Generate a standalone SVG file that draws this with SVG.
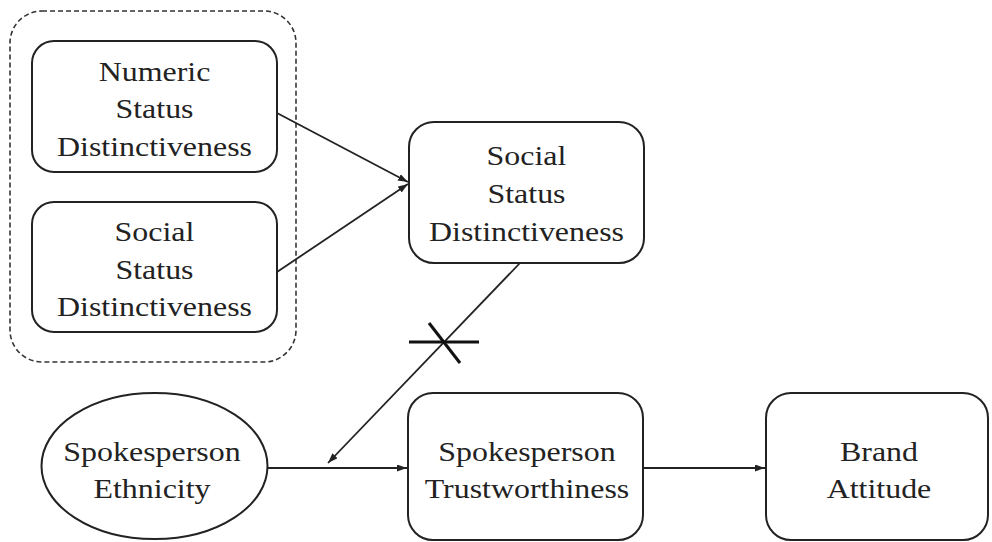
<svg xmlns="http://www.w3.org/2000/svg" width="992" height="542" viewBox="0 0 992 542">
  <style>
    .box { fill: none; stroke: #222; stroke-width: 2; }
    .grp { fill: none; stroke: #333; stroke-width: 1.6; stroke-dasharray: 5 3; }
    .lbl { font-family: "Liberation Serif", "Times New Roman", serif; font-size: 28px; fill: #222; text-anchor: middle; }
    .edge { fill: none; stroke: #222; stroke-width: 1.8; }
    .cut { fill: none; stroke: #111; stroke-width: 3; }
  </style>
  <defs>
    <marker id="arrow" markerUnits="userSpaceOnUse" markerWidth="11" markerHeight="8" refX="10" refY="3.5" orient="auto">
      <path d="M0,0 L10,3.5 L0,7 z" fill="#222"/>
    </marker>
  </defs>
  <rect width="992" height="542" fill="#fff"/>

  <!-- dashed grouping of the two antecedents -->
  <rect id="antecedents" class="grp" x="10" y="11" width="286" height="351" rx="32"/>

  <g id="numeric-status">
    <rect class="box" x="32" y="41" width="245" height="131" rx="22"/>
    <g transform="translate(154.5 0) scale(1.14 1) translate(-154.5 0)">
      <text class="lbl" x="154.5" y="81">Numeric</text>
      <text class="lbl" x="154.5" y="118">Status</text>
      <text class="lbl" x="154.5" y="156">Distinctiveness</text>
    </g>
  </g>

  <g id="social-status-left">
    <rect class="box" x="32" y="202" width="245" height="130" rx="22"/>
    <g transform="translate(154.5 0) scale(1.14 1) translate(-154.5 0)">
      <text class="lbl" x="154.5" y="241">Social</text>
      <text class="lbl" x="154.5" y="279">Status</text>
      <text class="lbl" x="154.5" y="316">Distinctiveness</text>
    </g>
  </g>

  <g id="social-status">
    <rect class="box" x="409" y="122" width="235" height="141" rx="25"/>
    <g transform="translate(526.5 0) scale(1.14 1) translate(-526.5 0)">
      <text class="lbl" x="526.5" y="165">Social</text>
      <text class="lbl" x="526.5" y="203">Status</text>
      <text class="lbl" x="526.5" y="241">Distinctiveness</text>
    </g>
  </g>

  <g id="spokesperson-ethnicity">
    <ellipse class="box" cx="154.5" cy="466" rx="113" ry="73"/>
    <g transform="translate(152 0) scale(1.14 1) translate(-152 0)">
      <text class="lbl" x="152" y="461">Spokesperson</text>
      <text class="lbl" x="152" y="498">Ethnicity</text>
    </g>
  </g>

  <g id="spokesperson-trustworthiness">
    <rect class="box" x="408" y="393" width="235" height="147" rx="25"/>
    <g transform="translate(527 0) scale(1.14 1) translate(-527 0)">
      <text class="lbl" x="527" y="461">Spokesperson</text>
      <text class="lbl" x="527" y="498">Trustworthiness</text>
    </g>
  </g>

  <g id="brand-attitude">
    <rect class="box" x="766" y="393" width="222" height="147" rx="25"/>
    <g transform="translate(879 0) scale(1.14 1) translate(-879 0)">
      <text class="lbl" x="879" y="461">Brand</text>
      <text class="lbl" x="879" y="498">Attitude</text>
    </g>
  </g>

  <g id="connectors">
    <line class="edge" x1="277" y1="113" x2="408" y2="182" marker-end="url(#arrow)"/>
    <line class="edge" x1="277" y1="272" x2="408" y2="184" marker-end="url(#arrow)"/>
    <line class="edge" x1="520" y1="263" x2="328" y2="463" marker-end="url(#arrow)"/>
    <line class="edge" x1="268" y1="468" x2="407" y2="468" marker-end="url(#arrow)"/>
    <line class="edge" x1="643" y1="468" x2="765" y2="468" marker-end="url(#arrow)"/>
    <!-- cross mark on the moderating path -->
    <line class="cut" x1="409" y1="342" x2="479" y2="342"/>
    <line class="cut" x1="429" y1="323" x2="460" y2="363"/>
  </g>
</svg>
